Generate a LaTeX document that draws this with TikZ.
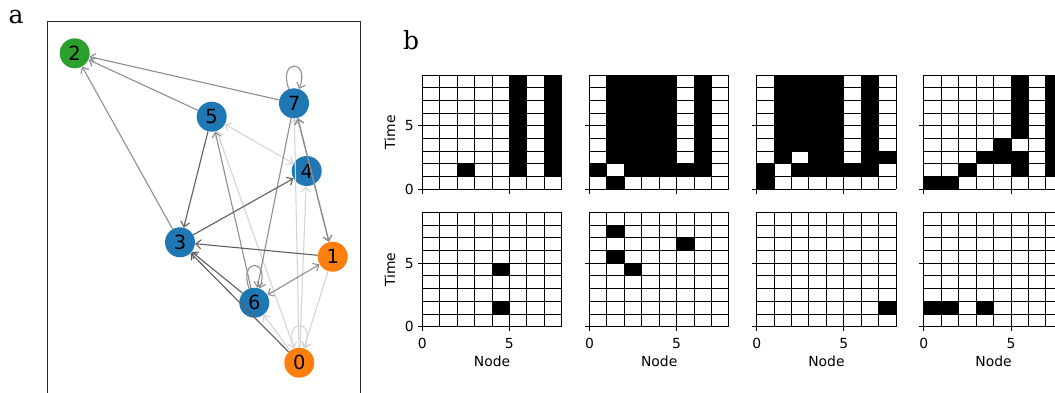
\documentclass[tikz,border=0pt]{standalone}
\usepackage{fontspec}
\setmainfont{DejaVu Sans}
\newfontfamily\panelfont{DejaVu Serif}
\usetikzlibrary{arrows.meta}
\definecolor{tabblue}{HTML}{1F77B4}
\definecolor{taborange}{HTML}{FF7F0E}
\definecolor{tabgreen}{HTML}{2CA02C}
\definecolor{edgedark}{HTML}{5E5E5E}
\definecolor{edgemid}{HTML}{8E8E8E}
\definecolor{edgelight}{HTML}{D4D4D4}

% one state raster: lower left corner (x, y in pixels) and the black blocks
\newcommand{\statepanel}[3]{%
  \begin{scope}[shift={(#1pt,-#2pt)}, x=17.425pt, y=12.7pt]
    \foreach \xa/\ya/\xb/\yb in {#3} \fill (\xa,\ya) rectangle (\xb,\yb);
    \draw[gridline, step=1] (0,0) grid (8,9);
    \draw[gridline] (0,0) -- ++(-0.27,0) (0,5) -- ++(-0.27,0);
    \draw[gridline] (0,0) -- ++(0,-0.37) (5,0) -- ++(0,-0.37);
  \end{scope}}

\begin{document}
\begin{tikzpicture}[x=1pt, y=-1pt,
  vertex/.style={circle, minimum size=30pt, inner sep=0pt, font=\fontsize{19.5}{19.5}\selectfont},
  edge/.style={-{Straight Barb[length=5pt, width=9pt]}, line width=1.1pt},
  bedge/.style={{Straight Barb[length=5pt, width=9pt]}-{Straight Barb[length=5pt, width=9pt]}, line width=1.1pt},
  gridline/.style={line width=1pt, black},
  ticklabel/.style={inner sep=0pt, font=\fontsize{13.9}{14}\selectfont},
  axlabel/.style={inner sep=0pt, font=\fontsize{13.9}{14}\selectfont},
  panel/.style={inner sep=0pt, font=\panelfont\fontsize{25}{25}\selectfont}]
\path[use as bounding box] (0,0) rectangle (1055,392);
\clip (0,0) rectangle (1055,392);

% a: the network
\node[panel] (lbla) at (16,17) {a};
\draw[line width=1pt, black!85] (47.5,21.5) rectangle (360,400);

\node[vertex, fill=taborange] (n0) at (299.3,362.7) {0};
\node[vertex, fill=taborange] (n1) at (332.7,256.7) {1};
\node[vertex, fill=tabgreen] (n2) at (74.7,53.3) {2};
\node[vertex, fill=tabblue] (n3) at (180,242.3) {3};
\node[vertex, fill=tabblue] (n4) at (306.7,171) {4};
\node[vertex, fill=tabblue] (n5) at (211.7,116.7) {5};
\node[vertex, fill=tabblue] (n6) at (254.3,302.7) {6};
\node[vertex, fill=tabblue] (n7) at (294,103.3) {7};

\draw[edge, edgelight] (n0) -- (n7);
\draw[edge, edgelight] (n0) -- (n4);
\draw[edge, edgelight] (n0) -- (n6);
\draw[edge, edgelight] (n1) -- (n0);
\draw[bedge, edgelight] (n5) -- (n0);
\draw[bedge, edgelight] (n5) -- (n4);
\draw[edge, edgelight] (n0) to[out=110, in=70, looseness=8] (n0);
\draw[edge, edgemid] (n7) -- (n2);
\draw[edge, edgemid] (n5) -- (n2);
\draw[edge, edgemid] (n3) -- (n2);
\draw[edge, edgemid] (n6) -- (n5);
\draw[edge, edgemid] (n7) -- (n6);
\draw[bedge, edgemid] (n6) -- (n1);
\draw[bedge, edgemid, line width=1.5pt] (n7) -- (n1);
\draw[edge, edgemid] (n7) to[out=110, in=70, looseness=8] (n7);
\draw[edge, edgemid] (n6) to[out=110, in=70, looseness=8] (n6);
\draw[edge, edgedark] (n5) -- (n3);
\draw[edge, edgedark] (n3) -- (n4);
\draw[edge, edgedark] (n1) -- (n3);
\draw[edge, edgedark] (n6) -- (n3);
\draw[edge, edgedark] (n0) -- (n3);

% b: node states over time
\node[panel] (lblb) at (411,40) {b};

\statepanel{422.3}{189.3}{2/1/3/2, 5/1/6/9, 7/1/8/9}
\statepanel{589.5}{189.3}{1/0/2/1, 0/1/1/2, 2/1/7/2, 1/2/5/9, 6/2/7/9}
\statepanel{756.7}{189.3}{0/0/1/2, 2/1/7/2, 1/2/2/9, 3/2/5/9, 2/3/3/9, 6/2/7/9, 7/2/8/3}
\statepanel{923.9}{189.3}{0/0/2/1, 2/1/3/2, 5/1/6/3, 3/2/5/3, 4/3/5/4, 5/4/6/9, 7/1/8/9}
\statepanel{422.3}{326.7}{4/1/5/2, 4/4/5/5}
\statepanel{589.5}{326.7}{1/7/2/8, 1/5/2/6, 2/4/3/5, 5/6/6/7}
\statepanel{756.7}{326.7}{7/1/8/2}
\statepanel{923.9}{326.7}{0/1/2/2, 3/1/4/2}

\node[ticklabel, anchor=east] (t1a) at (414,125.8) {5};
\node[ticklabel, anchor=east] (t1b) at (414,189.3) {0};
\node[ticklabel, anchor=east] (t2a) at (414,263.2) {5};
\node[ticklabel, anchor=east] (t2b) at (414,326.7) {0};
\node[axlabel, rotate=90] (ytop) at (390,132.2) {Time};
\node[axlabel, rotate=90] (ybot) at (390,269.5) {Time};

\foreach \gx [count=\i] in {422.3, 589.5, 756.7, 923.9} {
  \node[ticklabel, anchor=north] (xa\i) at (\gx,337.7) {0};
  \node[ticklabel, anchor=north] (xb\i) at (\gx+87.1,337.7) {5};
  \node[axlabel, anchor=north] (xl\i) at (\gx+69.7,356.2) {Node};
}
\end{tikzpicture}
\end{document}
